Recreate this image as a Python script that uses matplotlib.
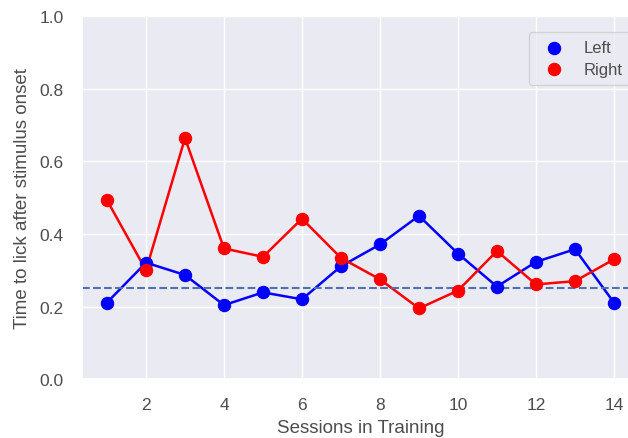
import numpy as np
import matplotlib
matplotlib.use('Agg')
import matplotlib.pyplot as plt
import seaborn as sns

# sessions and lick latency per side
sessions = np.arange(1, 15)
left = [0.211, 0.321, 0.287, 0.204, 0.239, 0.220, 0.311, 0.371, 0.450, 0.346, 0.255, 0.323, 0.358, 0.211]
right = [0.493, 0.300, 0.664, 0.360, 0.337, 0.442, 0.334, 0.275, 0.195, 0.244, 0.353, 0.261, 0.270, 0.330]
threshold = 0.25

sns.set_theme(style='darkgrid', context='notebook')
plt.rcParams['font.family'] = ['Liberation Sans', 'DejaVu Sans']
plt.rcParams['text.color'] = '0.3'
plt.rcParams['axes.labelcolor'] = '0.3'
plt.rcParams['xtick.color'] = '0.3'
plt.rcParams['ytick.color'] = '0.3'

fig = plt.figure(figsize=(6.28, 4.39), dpi=100)
ax = fig.add_axes([0.130, 0.134, 0.888, 0.827])

ax.plot(sessions, left, '-', color='blue', linewidth=1.8)
ax.plot(sessions, right, '-', color='red', linewidth=1.8)
ax.scatter(sessions, left, color='blue', s=75, label='Left', zorder=3)
ax.scatter(sessions, right, color='red', s=75, label='Right', zorder=3)
ax.axhline(threshold, linestyle='--', color='#4c72b0', linewidth=1.5)

ax.set_ylim(0, 1.0)
ax.tick_params(labelsize=12.5, pad=7)
ax.set_xlabel('Sessions in Training', fontsize=13.5, labelpad=5)
ax.set_ylabel('Time to lick after stimulus onset', fontsize=13.5, labelpad=6)
ax.legend(loc='upper right', fontsize=12, borderpad=0.5, labelspacing=0.4,
          bbox_to_anchor=(1.0, 0.98))

fig.savefig('out.png', dpi=100)
